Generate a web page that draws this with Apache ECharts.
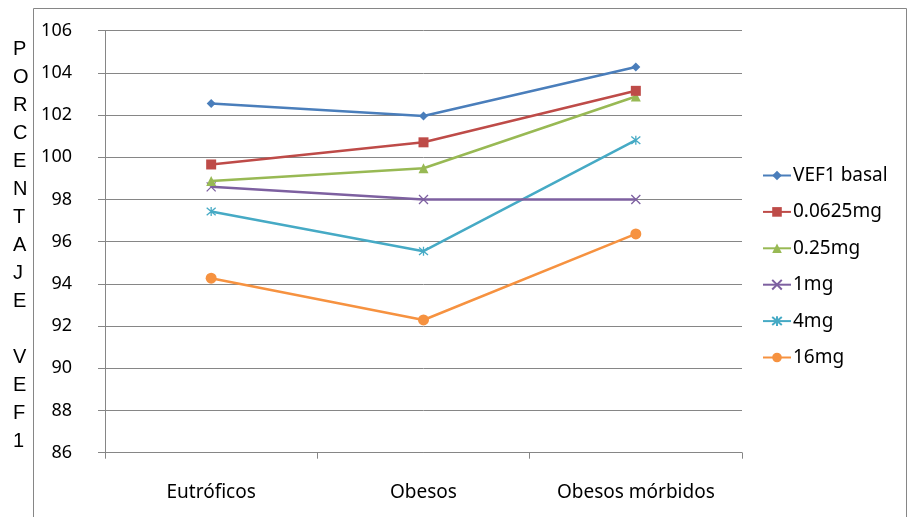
<!DOCTYPE html>
<html lang="es">
<head>
<meta charset="UTF-8">
<title>VEF1</title>
<script src="https://cdn.jsdelivr.net/npm/echarts@6/dist/echarts.min.js"></script>
<style>
  html, body { margin: 0; padding: 0; background: #fff; }
  #chart { width: 910px; height: 517px; }
</style>
</head>
<body>
<div id="chart"></div>
<script>
// grupos
var categorias = ['Eutróficos', 'Obesos', 'Obesos mórbidos'];

// valores (porcentaje VEF1)
var basal   = [102.55, 101.96, 104.28];
var d00625  = [99.66, 100.71, 103.15];
var d025    = [98.88, 99.48, 102.88];
var d1      = [98.6, 98.0, 98.0];
var d4      = [97.43, 95.55, 100.81];
var d16     = [94.27, 92.29, 96.37];

var nombres = ['VEF1 basal', '0.0625mg', '0.25mg', '1mg', '4mg', '16mg'];
var valores = [basal, d00625, d025, d1, d4, d16];
var colores = ['#4A7EBB', '#BE4B48', '#98B954', '#7D60A0', '#46AAC5', '#F69240'];

var cruz = 'path://M0,0L10,10M10,0L0,10';
var estrella = 'path://M0,0L10,10M10,0L0,10M5,-1L5,11';
var simbolos = ['diamond', 'rect', 'triangle', cruz, estrella, 'circle'];
var tamanos = [9, 10, 10, 9, 9, 11];

var series = nombres.map(function (n, i) {
    var abierto = (i === 3 || i === 4);
    return {
        name: n,
        type: 'line',
        data: valores[i],
        symbol: simbolos[i],
        symbolSize: tamanos[i],
        lineStyle: { color: colores[i], width: 2.5 },
        itemStyle: abierto
            ? { color: 'none', borderColor: colores[i], borderWidth: 1.3 }
            : { color: colores[i] },
        emphasis: { disabled: true },
        z: 10 - i
    };
});

var chart = echarts.init(document.getElementById('chart'));
chart.setOption({
    animation: false,
    backgroundColor: '#fff',
    textStyle: { fontFamily: 'Noto Sans' },
    title: {
        text: 'P\nO\nR\nC\nE\nN\nT\nA\nJ\nE\n\nV\nE\nF\n1',
        left: 8,
        top: 30,
        textStyle: {
            fontFamily: 'Liberation Sans',
            fontSize: 20,
            fontWeight: 'normal',
            color: '#000',
            lineHeight: 28
        }
    },
    graphic: [{
        type: 'rect',
        shape: { x: 33.5, y: 8.5, width: 873, height: 530 },
        style: { fill: 'none', stroke: '#868686', lineWidth: 1 },
        silent: true
    }],
    legend: {
        orient: 'vertical',
        left: 762,
        top: 166,
        padding: 0,
        itemWidth: 28,
        itemHeight: 12,
        itemGap: 17.4,
        textStyle: { fontSize: 19, color: '#000', fontFamily: 'Noto Sans', padding: [0, 0, 0, -3] },
        data: nombres
    },
    grid: { left: 105, right: 168, top: 30.7, bottom: 64.3 },
    xAxis: {
        type: 'category',
        data: categorias,
        boundaryGap: true,
        axisLine: { lineStyle: { color: '#868686' } },
        axisTick: { show: true, length: 6, lineStyle: { color: '#868686' } },
        axisLabel: { color: '#000', fontSize: 19, margin: 30 }
    },
    yAxis: {
        type: 'value',
        min: 86,
        max: 106,
        interval: 2,
        axisLine: { show: true, lineStyle: { color: '#868686' } },
        axisTick: { show: true, length: 7, lineStyle: { color: '#868686' } },
        axisLabel: { color: '#000', fontSize: 18, margin: 33 },
        splitLine: { lineStyle: { color: '#868686', width: 1 } }
    },
    series: series
});
</script>
</body>
</html>
